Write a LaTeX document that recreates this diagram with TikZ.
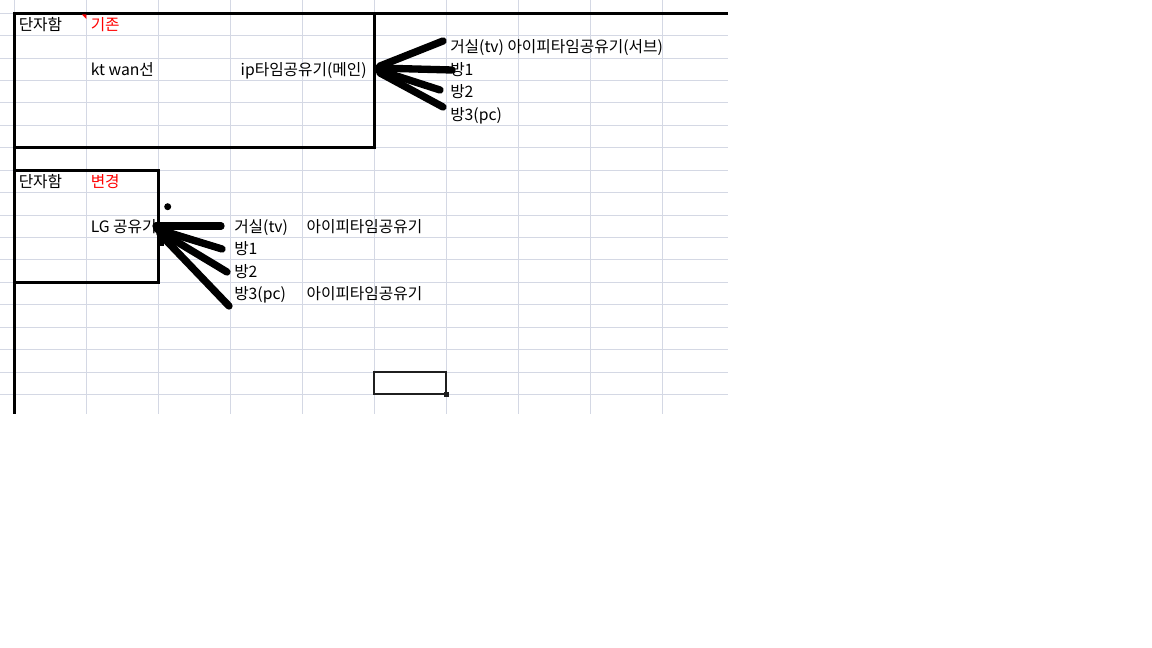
\documentclass[tikz,border=0pt]{standalone}
\usepackage{fontspec}
\setmainfont{Noto Sans CJK KR}
\definecolor{gridline}{RGB}{212,216,228}
\definecolor{cellred}{RGB}{255,0,0}
\tikzset{
  cell/.style={anchor=base west, inner sep=0pt, font=\fontsize{11.8}{14}\selectfont},
  redcell/.style={cell, text=cellred},
  frame/.style={line width=2.25pt},
  cable/.style={line width=5.5pt, line cap=round},
}

\begin{document}
\begin{tikzpicture}[x=0.75pt,y=-0.75pt]
    \fill[white] (0,0) rectangle (1152,648);
    \useasboundingbox (0,0) rectangle (1152,648);
    % sheet grid
    \foreach \c in {0,...,9}
        \draw[gridline, line width=0.75pt] ({14.5+71.95*\c},0) -- ({14.5+71.95*\c},414);
    \foreach \r in {0,...,17}
        \draw[gridline, line width=0.75pt] (0,{13.3+22.42*\r}) -- (728,{13.3+22.42*\r});
    % borders
    \draw[frame] (728,13.3) -- (14.5,13.3) -- (14.5,414);
    \draw[frame] (374.25,13.3) -- (374.25,147.8) -- (14.5,147.8);
    \draw[frame] (14.5,170.2) -- (158.4,170.2) -- (158.4,282.3) -- (14.5,282.3);
    \fill[cellred] (82,14.5) -- (86.4,14.5) -- (86.4,19) -- cycle;
    \draw[line width=1.5pt, black!88] (374.25,372) rectangle (446.2,394.4);
    \fill[black!88] (443.5,391.5) rectangle (449,397);
    % before
    \node[cell] (box1) at (18.5,30.7) {단자함};
    \node[redcell] (old) at (90.5,30.7) {기존};
    \node[cell] (ktwan) at (90.5,75.6) {kt wan선};
    \node[cell, anchor=base east] (ipmain) at (367,75.6) {ip타임공유기(메인)};
    \node[cell] (living) at (450,53) {거실(tv) 아이피타임공유기(서브)};
    \node[cell] (room1) at (450,75.6) {방1};
    \node[cell] (room2) at (450,98) {방2};
    \node[cell] (room3) at (450,120.4) {방3(pc)};
    \coordinate (hubA1) at (380,66);
    \coordinate (hubA2) at (378,68);
    \coordinate (hubA3) at (378,70);
    \coordinate (hubA4) at (380,73);
    \coordinate (endA1) at (443,41);
    \coordinate (endA2) at (452,70);
    \coordinate (endA3) at (440,90);
    \coordinate (endA4) at (443,107);
    \draw[cable] (hubA1) -- (endA1);
    \draw[cable] (hubA2) -- (endA2);
    \draw[cable] (hubA3) -- (endA3);
    \draw[cable] (hubA4) -- (endA4);
    % after
    \node[cell] (box2) at (18.5,187.7) {단자함};
    \node[redcell] (new) at (90.5,187.7) {변경};
    \node[cell] (lg) at (90.5,232.5) {LG 공유기};
    \node[cell] (living2) at (234,232.5) {거실(tv)};
    \node[cell] (sub1) at (306.3,232.5) {아이피타임공유기};
    \node[cell] (room1b) at (234,255) {방1};
    \node[cell] (room2b) at (234,277.3) {방2};
    \node[cell] (room3b) at (234,299.8) {방3(pc)};
    \node[cell] (sub2) at (306.3,299.8) {아이피타임공유기};
    \fill (167.7,206.7) circle[radius=3.5];
    \coordinate (hubB1) at (156,226);
    \coordinate (hubB2) at (157,229);
    \coordinate (hubB3) at (159,231);
    \coordinate (hubB4) at (160,234);
    \coordinate (endB1) at (221,226);
    \coordinate (endB2) at (222,249);
    \coordinate (endB3) at (227,272);
    \coordinate (endB4) at (229,306);
    \draw[cable] (hubB1) -- (endB1);
    \draw[cable] (hubB2) -- (endB2);
    \draw[cable] (hubB3) -- (endB3);
    \draw[cable] (hubB4) -- (endB4);
    \fill (158.4,232) rectangle (164,246);
\end{tikzpicture}
\end{document}
